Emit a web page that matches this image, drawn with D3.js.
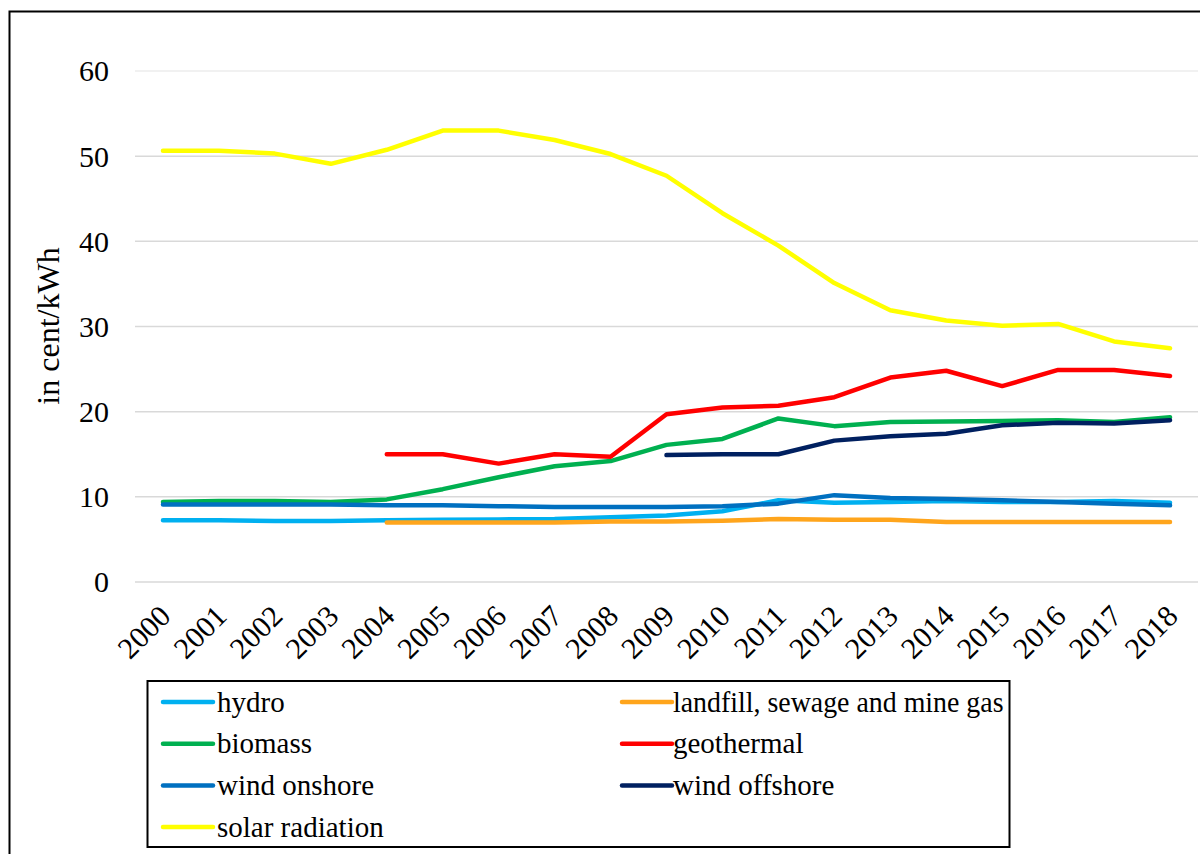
<!DOCTYPE html>
<html lang="en">
<head>
<meta charset="UTF-8">
<title>Feed-in tariffs</title>
<script src="https://d3js.org/d3.v7.min.js"></script>
<style>
    body {
        margin: 0;
        background-color: #ffffff;
    }
    svg text {
        font-family: "Liberation Serif", "Times New Roman", serif;
        fill: #000000;
    }
</style>
</head>
<body>

<div id="chart"></div>

<script>

//data
var years = ["2000","2001","2002","2003","2004","2005","2006","2007","2008","2009",
             "2010","2011","2012","2013","2014","2015","2016","2017","2018"];
var yTicks = [0, 10, 20, 30, 40, 50, 60];

var seriesNames = ["hydro", "landfill, sewage and mine gas", "biomass", "geothermal",
                   "wind onshore", "wind offshore", "solar radiation"];
var seriesColors = ["#00b0f0", "#ffa51c", "#00b050", "#ff0000", "#0070c0", "#002060", "#ffff00"];

// null = no value in that year
var hydro      = [7.25, 7.25, 7.15, 7.15, 7.25, 7.3, 7.35, 7.4, 7.6, 7.8, 8.3, 9.6, 9.3, 9.4, 9.5, 9.4, 9.4, 9.5, 9.3];
var landfill   = [null, null, null, null, 7.0, 7.0, 7.0, 7.0, 7.1, 7.1, 7.2, 7.4, 7.3, 7.3, 7.05, 7.05, 7.05, 7.05, 7.05];
var biomass    = [9.4, 9.5, 9.5, 9.4, 9.7, 10.9, 12.3, 13.6, 14.2, 16.1, 16.8, 19.2, 18.3, 18.8, 18.85, 18.9, 19.0, 18.8, 19.35];
var geothermal = [null, null, null, null, 15.0, 15.0, 13.9, 15.0, 14.7, 19.7, 20.5, 20.7, 21.7, 24.0, 24.8, 23.0, 24.9, 24.9, 24.2];
var onshore    = [9.1, 9.1, 9.1, 9.1, 9.0, 9.0, 8.9, 8.8, 8.8, 8.8, 8.9, 9.2, 10.2, 9.85, 9.75, 9.6, 9.4, 9.2, 9.0];
var offshore   = [null, null, null, null, null, null, null, null, null, 14.9, 15.0, 15.0, 16.6, 17.1, 17.4, 18.4, 18.7, 18.6, 19.0];
var solar      = [50.65, 50.65, 50.3, 49.1, 50.75, 53.0, 53.0, 51.9, 50.25, 47.7, 43.3, 39.5, 35.1, 31.9, 30.7, 30.1, 30.3, 28.25, 27.45];

var allSeries = [hydro, landfill, biomass, geothermal, onshore, offshore, solar];

//dimensions
var W = 1200, H = 854;
var plot = {left: 135, right: 1198, top: 70, bottom: 582};
var legendBox = {x: 147.5, y: 681, w: 862, h: 166};

var svg = d3.select("#chart")
    .append("svg")
        .attr("width", W)
        .attr("height", H);

//outer frame
svg.append("rect")
    .attr("x", 9.5)
    .attr("y", 11.5)
    .attr("width", W + 20)
    .attr("height", H + 20)
    .attr("fill", "none")
    .attr("stroke", "#000")
    .attr("stroke-width", 2);

//scales
var x = d3.scalePoint()
    .domain(years)
    .range([plot.left, plot.right])
    .padding(0.5);

var y = d3.scaleLinear()
    .domain([0, 60])
    .range([plot.bottom, plot.top + 1]);

//gridlines
svg.append("g")
    .selectAll("line")
    .data(yTicks)
    .enter()
    .append("line")
        .attr("x1", plot.left)
        .attr("x2", plot.right)
        .attr("y1", function(d) { return y(d); })
        .attr("y2", function(d) { return y(d); })
        .attr("stroke", function(d) { return d == 60 ? "#ececec" : "#d9d9d9"; })
        .attr("stroke-width", 1.5);

//y axis
var yAxis = svg.append("g")
    .attr("transform", "translate(" + (plot.left - 26) + ",0)")
    .call(d3.axisLeft(y).tickValues(yTicks).tickSize(0).tickPadding(0));
yAxis.select(".domain").remove();
yAxis.selectAll("text")
    .style("font-size", "30px")
    .attr("dy", "0.33em");

svg.append("text")
    .attr("transform", "translate(59," + 326 + ")rotate(-90)")
    .style("text-anchor", "middle")
    .style("font-size", "32px")
    .text("in cent/kWh");

//x axis
var xAxis = svg.append("g")
    .attr("transform", "translate(0," + plot.bottom + ")")
    .call(d3.axisBottom(x).tickSize(0).tickPadding(0));
xAxis.select(".domain").remove();
xAxis.selectAll("text")
    .style("font-size", "30px")
    .style("text-anchor", "end")
    .attr("dy", 0)
    .attr("transform", "translate(9,36)rotate(-45)");

//lines
var line = d3.line()
    .defined(function(d) { return d != null; })
    .x(function(d, i) { return x(years[i]); })
    .y(function(d) { return y(d); });

svg.append("g")
    .selectAll("path")
    .data(allSeries)
    .enter()
    .append("path")
        .attr("d", line)
        .attr("fill", "none")
        .attr("stroke", function(d, i) { return seriesColors[i]; })
        .attr("stroke-width", 4.5)
        .attr("stroke-linejoin", "round")
        .attr("stroke-linecap", "round");

//legend
var legend = svg.append("g");
legend.append("rect")
    .attr("x", legendBox.x)
    .attr("y", legendBox.y)
    .attr("width", legendBox.w)
    .attr("height", legendBox.h)
    .attr("fill", "#fff")
    .attr("stroke", "#000")
    .attr("stroke-width", 2);

var items = legend.selectAll(".item")
    .data(seriesNames)
    .enter()
    .append("g")
        .attr("class", "item")
        .attr("transform", function(d, i) {
            var col = i % 2, row = Math.floor(i / 2);
            return "translate(" + (col == 0 ? 163 : 622) + "," + (702 + row * 41.7) + ")";
        });

items.append("line")
    .attr("x1", 0)
    .attr("x2", 50)
    .attr("stroke", function(d, i) { return seriesColors[i]; })
    .attr("stroke-width", 4.5)
    .attr("stroke-linecap", "round");

items.append("text")
    .attr("x", function(d, i) { return i % 2 == 0 ? 54 : 51; })
    .attr("dy", "0.33em")
    .style("font-size", "29px")
    .text(function(d) { return d; })
    .each(function(d, i) {
        // squeeze text that would run past the legend border
        var left = (i % 2 == 0 ? 163 + 54 : 622 + 51);
        var room = legendBox.x + legendBox.w - left - 6;
        if (this.getComputedTextLength() > room) {
            d3.select(this)
                .attr("textLength", room)
                .attr("lengthAdjust", "spacingAndGlyphs");
        }
    });

</script>
</body>
</html>
